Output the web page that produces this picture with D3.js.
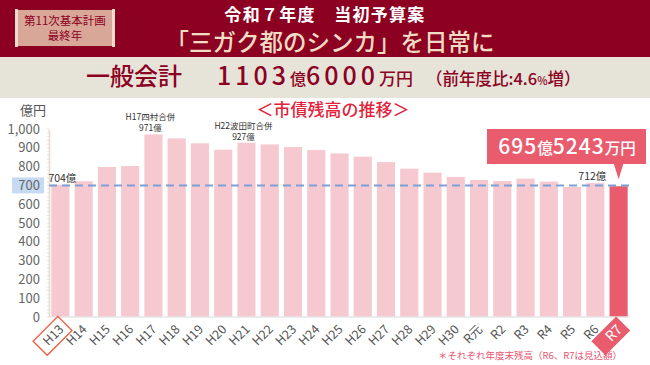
<!DOCTYPE html>
<html>
<head>
<meta charset="utf-8">
<script src="https://cdn.jsdelivr.net/npm/d3@7"></script>
<style>
  body { margin: 0; background: #fff; }
  svg text { font-family: "Noto Sans CJK JP", "Noto Sans", sans-serif; }
</style>
</head>
<body>
<div id="viz"></div>
<script>
// year labels and end-of-year city debt balance (100 million yen)
const years = ['H13', 'H14', 'H15', 'H16', 'H17', 'H18', 'H19', 'H20', 'H21', 'H22', 'H23', 'H24',
  'H25', 'H26', 'H27', 'H28', 'H29', 'H30', 'R元', 'R2', 'R3', 'R4', 'R5', 'R6', 'R7'];
const debt = [704, 722, 798, 803, 971, 950, 924, 890, 927, 918, 904, 888,
  870, 853, 824, 789, 768, 745, 729, 723, 736, 720, 692, 712, 695.5243];
const yTicks = [0, 100, 200, 300, 400, 500, 600, 700, 800, 900, 1000];
const refValue = 700;

// notes shown above some bars
const notes = [
  { year: 'H13', lines: ['704億'] },
  { year: 'H17', lines: ['H17四村合併', '971億'] },
  { year: 'H21', lines: ['H22波田町合併', '927億'] },
  { year: 'R6', lines: ['712億'] }
];

const width = 650, height = 365;
const darkRed = '#8c0022';
const svg = d3.select('#viz').append('svg')
  .attr('width', width)
  .attr('height', height);

// header bands
svg.append('rect').attr('x', 0).attr('y', 0).attr('width', width).attr('height', 57).attr('fill', darkRed);
svg.append('rect').attr('x', 0).attr('y', 57).attr('width', width).attr('height', 41).attr('fill', '#e6e3d9');

// badge
const badge = svg.append('g');
badge.append('rect').attr('x', 16).attr('y', 10).attr('width', 98).attr('height', 36).attr('fill', '#d8a797');
badge.append('rect').attr('x', 15).attr('y', 9).attr('width', 3).attr('height', 38).attr('fill', '#f1dccd');
badge.append('rect').attr('x', 112).attr('y', 9).attr('width', 3).attr('height', 38).attr('fill', '#f1dccd');
badge.append('text').attr('x', 65).attr('y', 25).attr('text-anchor', 'middle')
  .attr('font-size', 11.5).attr('fill', darkRed).text('第11次基本計画');
badge.append('text').attr('x', 65).attr('y', 40).attr('text-anchor', 'middle')
  .attr('font-size', 11.5).attr('fill', darkRed).text('最終年');

svg.append('text').attr('x', 325).attr('y', 21).attr('text-anchor', 'middle')
  .attr('font-size', 17).attr('font-weight', 700).attr('fill', '#fff').attr('letter-spacing', 1.3)
  .text('令和７年度　当初予算案');
svg.append('text').attr('x', 330).attr('y', 51).attr('text-anchor', 'middle')
  .attr('font-size', 23.5).attr('font-weight', 500).attr('fill', '#efdcc2')
  .text('「三ガク都のシンカ」を日常に');

// budget line
const budget = svg.append('text').attr('y', 85).attr('fill', darkRed).attr('font-weight', 500);
budget.append('tspan').attr('x', 86).attr('font-size', 24).text('一般会計');
budget.append('tspan').attr('x', 217).attr('font-size', 25).attr('letter-spacing', 4).text('1103');
budget.append('tspan').attr('font-size', 16).attr('letter-spacing', 0).text('億');
budget.append('tspan').attr('font-size', 25).attr('letter-spacing', 4).text('6000');
budget.append('tspan').attr('font-size', 17).attr('letter-spacing', 0).text('万円');
budget.append('tspan').attr('x', 426).attr('font-size', 16.5).text('（前年度比:4.6');
budget.append('tspan').attr('font-size', 11).text('%');
budget.append('tspan').attr('font-size', 16.5).text('増）');

// chart title
svg.append('text').attr('x', 333).attr('y', 116).attr('text-anchor', 'middle')
  .attr('font-size', 17).attr('font-weight', 500).attr('fill', '#e3223c')
  .text('＜市債残高の推移＞');

// scales
const x = d3.scaleBand().domain(years).range([49, 630]).paddingInner(0.22).paddingOuter(0.1);
const y = d3.scaleLinear().domain([0, 1000]).range([317, 129]);

// highlight for 700 tick
svg.append('rect').attr('x', 12).attr('y', y(refValue) - 8).attr('width', 32).attr('height', 16).attr('fill', '#c6daf1');

// y axis
const yAxis = svg.append('g').attr('transform', 'translate(49,0)')
  .call(d3.axisLeft(y).tickValues(yTicks).tickSize(0).tickPadding(9).tickFormat(d3.format(',')));
yAxis.select('.domain').attr('stroke', '#e3dbcf').attr('stroke-width', 1.5);
yAxis.selectAll('text').attr('font-size', 13).attr('fill', '#666')
  .style('font-family', '"Noto Sans CJK JP", sans-serif');
// minor ticks on the axis
svg.append('g').selectAll('line').data(d3.range(0, 1001, 20)).join('line')
  .attr('x1', 47).attr('x2', 49).attr('y1', d => y(d)).attr('y2', d => y(d))
  .attr('stroke', '#e3dbcf').attr('stroke-width', 0.8);

svg.append('text').attr('x', 20).attr('y', 115).attr('font-size', 13).attr('fill', '#555').text('億円');

// bars
svg.append('g').selectAll('rect').data(years).join('rect')
  .attr('x', d => x(d))
  .attr('y', (d, i) => y(debt[i]))
  .attr('width', x.bandwidth())
  .attr('height', (d, i) => y(0) - y(debt[i]))
  .attr('fill', d => d === 'R7' ? '#e95c6e' : '#f6c9d0');

// baseline
svg.append('line').attr('x1', 49).attr('x2', 630).attr('y1', y(0)).attr('y2', y(0))
  .attr('stroke', '#e6e6e6').attr('stroke-width', 1.5);

// 700 reference line
svg.append('line').attr('x1', 49).attr('x2', 630).attr('y1', y(refValue)).attr('y2', y(refValue))
  .attr('stroke', '#7d9fd6').attr('stroke-width', 2).attr('stroke-dasharray', '8,5');

// notes above bars
notes.forEach(n => {
  const i = years.indexOf(n.year);
  const shift = n.year === 'H13' ? 2 : -3;
  const cx = x(n.year) + x.bandwidth() / 2 + shift;
  const top = y(debt[i]);
  n.lines.forEach((t, k) => {
    svg.append('text').attr('x', cx).attr('y', top - 3 - (n.lines.length - 1 - k) * 11)
      .attr('text-anchor', 'middle').attr('font-size', n.lines.length > 1 ? 8.5 : 10.5)
      .attr('fill', '#333').text(t);
  });
});

// callout for R7
const r7x = x('R7') + x.bandwidth() / 2;
const callout = svg.append('g');
callout.append('rect').attr('x', 487).attr('y', 129).attr('width', 159).attr('height', 35).attr('fill', '#e95c6e');
callout.append('path').attr('d', `M${r7x - 5},163 L${r7x + 5},163 L${r7x},${y(debt[24]) - 7}Z`).attr('fill', '#e95c6e');
const ct = callout.append('text').attr('x', 567).attr('y', 154).attr('text-anchor', 'middle')
  .attr('fill', '#fff').attr('font-weight', 500);
ct.append('tspan').attr('font-size', 21).attr('letter-spacing', 1).text('695');
ct.append('tspan').attr('font-size', 15.5).attr('letter-spacing', 0).text('億');
ct.append('tspan').attr('font-size', 21).attr('letter-spacing', 1).text('5243');
ct.append('tspan').attr('font-size', 15.5).attr('letter-spacing', 0).text('万円');

// x labels (rotated)
const xl = svg.append('g').selectAll('g').data(years).join('g')
  .attr('transform', d => `translate(${x(d) + x.bandwidth() / 2 + 1},${y(0) + 10}) rotate(-45)`);
xl.filter(d => d === 'H13').append('rect')
  .attr('x', -30).attr('y', -10).attr('width', 35).attr('height', 20)
  .attr('fill', 'none').attr('stroke', '#ef5a3c').attr('stroke-width', 1.3);
xl.filter(d => d === 'R7').append('rect')
  .attr('x', -30).attr('y', -10).attr('width', 35).attr('height', 20)
  .attr('fill', '#e95c6e');
xl.append('text').attr('text-anchor', 'end').attr('dy', '0.35em')
  .attr('font-size', d => d === 'R7' ? 14 : 12.5)
  .attr('fill', d => d === 'R7' ? '#fff' : '#555')
  .text(d => d);

// footnote
svg.append('text').attr('x', 438).attr('y', 359).attr('font-size', 9.5).attr('fill', '#ea5570')
  .text('＊それぞれ年度末残高（R6、R7は見込額）');
</script>
</body>
</html>
